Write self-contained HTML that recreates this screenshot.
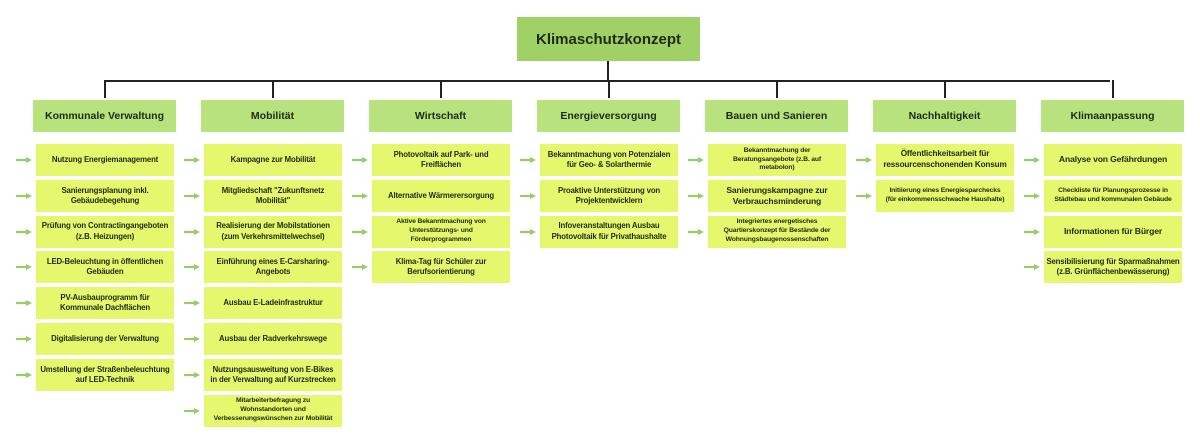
<!DOCTYPE html>
<html><head><meta charset="utf-8"><style>
body{margin:0;width:1200px;height:444px;background:#fff;position:relative;font-family:"Liberation Sans",sans-serif;overflow:hidden}
.a{position:absolute;display:flex;align-items:center;justify-content:center;text-align:center;color:#1e2a14}
.top{left:517px;top:17px;width:183px;height:44px;background:#9fd166;font-size:15px;font-weight:bold}
.h{width:143px;height:32px;background:#b8e27e;font-size:10.5px;font-weight:bold;top:100px}
.i{width:138px;height:32px;background:#e5f86d;font-size:7.8px;font-weight:bold;line-height:1.3;white-space:nowrap;letter-spacing:-0.15px}
.i.s{font-size:6.8px}
.i.l{font-size:8.6px}
.ln{position:absolute;background:#222}
.ar{position:absolute;width:16px;height:6px}
</style></head><body>
<div class="a top">Klimaschutzkonzept</div>
<div class="ln" style="left:607px;top:61px;width:2px;height:20px"></div>
<div class="ln" style="left:104px;top:80px;width:1006px;height:2px"></div>
<div id="c"></div>
<script>
const cols=[
["Kommunale Verwaltung",["Nutzung Energiemanagement","Sanierungsplanung inkl.<br>Gebäudebegehung","Prüfung von Contractingangeboten<br>(z.B. Heizungen)","LED-Beleuchtung in öffentlichen<br>Gebäuden","PV-Ausbauprogramm für<br>Kommunale Dachflächen","Digitalisierung der Verwaltung","Umstellung der Straßenbeleuchtung<br>auf LED-Technik"]],
["Mobilität",["Kampagne zur Mobilität","Mitgliedschaft \"Zukunftsnetz<br>Mobilität\"","Realisierung der Mobilstationen<br>(zum Verkehrsmittelwechsel)","Einführung eines E-Carsharing-<br>Angebots","Ausbau E-Ladeinfrastruktur","Ausbau der Radverkehrswege","Nutzungsausweitung von E-Bikes<br>in der Verwaltung auf Kurzstrecken","s:Mitarbeiterbefragung zu<br>Wohnstandorten und<br>Verbesserungswünschen zur Mobilität"]],
["Wirtschaft",["Photovoltaik auf Park- und<br>Freiflächen","Alternative Wärmerersorgung","s:Aktive Bekanntmachung von<br>Unterstützungs- und<br>Förderprogrammen","Klima-Tag für Schüler zur<br>Berufsorientierung"]],
["Energieversorgung",["Bekanntmachung von Potenzialen<br>für Geo- &amp; Solarthermie","Proaktive Unterstützung von<br>Projektentwicklern","Infoveranstaltungen Ausbau<br>Photovoltaik für Privathaushalte"]],
["Bauen und Sanieren",["s:Bekanntmachung der<br>Beratungsangebote (z.B. auf<br>metabolon)","l:Sanierungskampagne zur<br>Verbrauchsminderung","s:Integriertes energetisches<br>Quartierskonzept für Bestände der<br>Wohnungsbaugenossenschaften"]],
["Nachhaltigkeit",["m:Öffentlichkeitsarbeit für<br>ressourcenschonenden Konsum","s:Initiierung eines Energiesparchecks<br>(für einkommensschwache Haushalte)"]],
["Klimaanpassung",["l:Analyse von Gefährdungen","s:Checkliste für Planungsprozesse in<br>Städtebau und kommunalen Gebäude","l:Informationen für Bürger","Sensibilisierung für Sparmaßnahmen<br>(z.B. Grünflächenbewässerung)"]]];
let h="";
cols.forEach((c,k)=>{const x=33+168*k;
h+=`<div class="ln" style="left:${x+71}px;top:80px;width:2px;height:18px"></div>`;
h+=`<div class="a h" style="left:${x}px">${c[0]}</div>`;
c[1].forEach((t,j)=>{const y=144+35.8*j;let cl="i",st="";
if(t.startsWith("s:")){cl+=" s";t=t.slice(2)}else if(t.startsWith("l:")){cl+=" l";t=t.slice(2)}else if(t.startsWith("m:")){st="font-size:8.2px;";t=t.slice(2)}
h+=`<div class="a ${cl}" style="${st}left:${x+3}px;top:${y}px">${t}</div>`;
h+=`<svg class="ar" style="left:${x-17}px;top:${y+13}px" viewBox="0 0 16 6"><line x1="0" y1="3" x2="11" y2="3" stroke="#97cc66" stroke-width="2.2"/><polygon points="10,0 16,3 10,6" fill="#97cc66"/></svg>`;});});
document.getElementById("c").innerHTML=h;
</script>
</body></html>
